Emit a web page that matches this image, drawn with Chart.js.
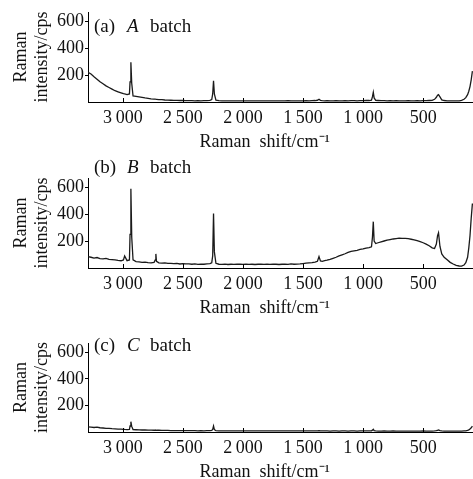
<!DOCTYPE html>
<html><head><meta charset="utf-8">
<script src="https://cdn.jsdelivr.net/npm/chart.js@4.4.1/dist/chart.umd.min.js"></script>
<style>
html,body{margin:0;padding:0;background:#fff;overflow:hidden;}
#wrap{position:relative;width:473px;height:479px;}
canvas{position:absolute;left:0;}
</style></head><body>
<div id="wrap">
<canvas id="ca" width="473" height="154" style="top:0px"></canvas>
<canvas id="cb" width="473" height="170" style="top:150px"></canvas>
<canvas id="cc" width="473" height="170" style="top:314px"></canvas>
</div>
<script>
// Raman shift (cm^-1), shared by all three spectra
const shift = [
 3290,3265,3240,3215,3190,3165,3140,3115,3090,3065,
 3040,3015,2995,2985,2965,2945,2940,2933,2926,2915,
 2890,2865,2840,2815,2790,2765,2740,2730,2725,2720,
 2700,2675,2650,2625,2600,2575,2550,2525,2500,2475,
 2450,2425,2400,2375,2350,2325,2300,2275,2260,2252,
 2245,2238,2225,2200,2175,2150,2125,2100,2075,2050,
 2025,2000,1975,1950,1925,1900,1875,1850,1825,1800,
 1775,1750,1725,1700,1675,1650,1625,1600,1575,1550,
 1525,1500,1475,1450,1425,1400,1380,1367,1355,1340,
 1320,1300,1275,1250,1225,1200,1175,1150,1125,1100,
 1075,1050,1025,1000,975,950,930,922,915,908,
 895,875,850,825,800,775,750,725,700,675,
 650,625,600,575,550,525,500,475,450,425,
 405,390,380,372,360,345,325,300,275,250,
 225,200,180,160,145,130,120,110,100,90
];
// (a) A batch intensity (cps)
const batchA = [
 222,208,188,170,150,136,120,108,96,84,
 76,68,62,60,55,60,150,295,140,45,
 42,38,34,30,27,24,22,21,20,20,
 18,17,15,14,13,12,12,11,11,10,
 10,10,9,10,9,10,10,12,18,60,
 158,60,14,10,9,9,8,9,8,9,
 9,9,8,9,9,8,9,9,8,9,
 9,8,9,9,8,9,10,9,9,9,
 9,9,10,9,10,11,13,20,12,10,
 9,10,9,9,10,9,9,10,9,10,
 10,9,10,10,11,11,14,40,72,30,
 12,11,10,10,9,10,9,10,9,9,
 9,10,9,9,10,9,10,10,11,12,
 20,35,50,55,38,16,11,9,9,8,
 8,9,12,20,32,55,80,115,165,230
];
// (b) B batch intensity (cps)
const batchB = [
 85,80,74,78,70,68,72,64,62,60,
 56,54,60,90,55,60,250,590,230,60,
 48,46,42,44,40,38,42,60,105,50,
 38,36,38,34,35,32,34,30,33,30,
 31,28,30,27,29,28,30,32,38,90,
 405,120,35,28,27,29,26,28,27,29,
 28,27,29,27,28,26,28,29,27,28,
 27,29,28,26,28,29,27,30,28,29,
 30,33,36,38,40,44,50,85,52,50,
 55,58,64,72,80,90,98,106,116,124,
 128,132,138,142,148,152,158,230,345,200,
 182,188,195,201,207,212,216,219,222,221,
 220,218,214,210,204,196,188,178,166,150,
 145,178,240,262,160,105,80,62,42,30,
 20,15,14,22,40,80,150,240,370,480
];
// (c) C batch intensity (cps)
const batchC = [
 38,36,34,37,32,30,28,27,25,24,
 22,21,20,19,18,20,45,78,42,18,
 17,16,15,15,14,14,13,13,14,13,
 13,12,12,12,11,11,11,10,11,10,
 10,10,10,9,10,9,10,10,12,20,
 45,18,10,9,9,9,8,9,8,8,
 8,9,8,8,9,8,8,9,8,8,
 8,8,9,8,8,8,9,8,8,8,
 8,8,8,8,8,8,9,11,9,8,
 8,8,7,8,8,7,8,8,7,8,
 8,7,8,8,8,8,9,14,20,10,
 8,7,7,8,7,7,8,7,7,7,
 7,7,7,7,7,7,8,7,7,7,
 8,10,13,15,10,8,7,7,7,7,
 7,7,7,8,9,12,16,22,32,45
];
const xTickValues = [3000,2500,2000,1500,1000,500];
const yTickValues = [200,400,600];
const panelTags = ['(a)','(b)','(c)'];
const panelLetters = ['A','B','C'];
const xTitle = 'Raman  shift/cm\u207B\u00B9       ';
const yTitle = ['Raman','intensity/cps'];

const FONT = '"Liberation Serif", "Times New Roman", serif';
Chart.defaults.font.family = FONT;
Chart.defaults.color = '#111';

const panelLabel = {
  id: 'panelLabel',
  afterDraw(chart, args, opts) {
    const {ctx, chartArea} = chart;
    ctx.save();
    ctx.fillStyle = '#111';
    ctx.textBaseline = 'middle';
    ctx.textAlign = 'left';
    const y = chartArea.top + opts.dy;
    const x = chartArea.left + 6;
    ctx.font = '19px ' + FONT;
    ctx.fillText(opts.tag, x, y);
    ctx.font = 'italic 19px ' + FONT;
    ctx.fillText(opts.letter, x + 33, y);
    ctx.font = '19px ' + FONT;
    ctx.fillText('batch', x + 56, y);
    const xs = chart.scales.x;
    ctx.strokeStyle = '#000';
    ctx.lineWidth = 1;
    xs.ticks.forEach(t => {
      const px = Math.round(xs.getPixelForValue(t.value)) + 0.5;
      ctx.beginPath();
      ctx.moveTo(px, chartArea.bottom);
      ctx.lineTo(px, chartArea.bottom - 4);
      ctx.stroke();
    });
    ctx.restore();
  }
};

function fmt(v) {
  const s = String(v);
  return s.length > 3 ? s.slice(0, s.length - 3) + '\u2009' + s.slice(-3) : s;
}

function makeChart(id, series, idx, padTop, dy) {
  const data = shift.map((x, i) => ({x: x, y: series[i]}));
  return new Chart(document.getElementById(id), {
    type: 'line',
    data: {datasets: [{data: data, borderColor: '#1a1a1a', borderWidth: 1.3, pointRadius: 0, tension: 0, fill: false}]},
    options: {
      responsive: false, animation: false, devicePixelRatio: 1,
      layout: {padding: {top: padTop, left: 0, right: 0, bottom: 0}, autoPadding: false},
      plugins: {legend: {display: false}, tooltip: {enabled: false},
        panelLabel: {tag: panelTags[idx], letter: panelLetters[idx], dy: dy}},
      scales: {
        x: {
          type: 'linear', reverse: true, min: 85, max: 3290,
          afterBuildTicks: s => { s.ticks = xTickValues.map(v => ({value: v})); },
          afterFit: s => { s.height = 52; },
          ticks: {font: {size: 18}, color: '#111', padding: 5, maxRotation: 0, callback: v => fmt(v)},
          grid: {display: false, drawTicks: false},
          border: {display: true, color: '#000', width: 1},
          title: {display: true, text: xTitle, font: {size: 18}, color: '#111', padding: {top: 2, bottom: 1}}
        },
        y: {
          min: 0, max: 670,
          afterBuildTicks: s => { s.ticks = yTickValues.map(v => ({value: v})); },
          afterFit: s => { s.width = 88; },
          ticks: {font: {size: 18}, color: '#111', padding: 1},
          grid: {display: true, drawOnChartArea: false, drawTicks: true, tickLength: 3, color: '#000'},
          border: {display: true, color: '#000', width: 1},
          title: {display: true, text: yTitle, font: {size: 18, lineHeight: 1.2}, color: '#111', padding: {top: 10, bottom: 0}}
        }
      }
    },
    plugins: [panelLabel]
  });
}

makeChart('ca', batchA, 0, 12, 15);
makeChart('cb', batchB, 1, 28, -10);
makeChart('cc', batchC, 2, 29, 3);
</script>
</body></html>
